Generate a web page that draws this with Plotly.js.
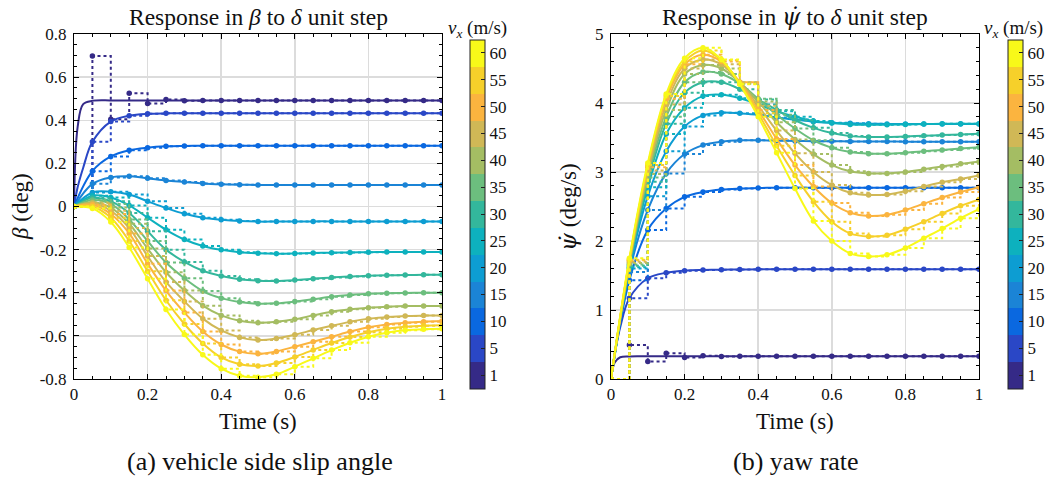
<!DOCTYPE html>
<html><head><meta charset="utf-8">
<script src="https://cdn.plot.ly/plotly-3.0.1.min.js"></script>
<style>html,body{margin:0;padding:0;background:#fff}#chart{width:1051px;height:477px}</style>
</head><body><div id="chart"></div>
<script>
// ---------- data ----------
const speeds = [1, 5, 10, 15, 20, 25, 30, 35, 40, 45, 50, 55, 60];
const speedLabels = ['1','5','10','15','20','25','30','35','40','45','50','55','60'];
const seriesColors = ['#352a87','#2a47c6','#0a68e0','#1b84d6','#0d9dd2','#0db1be','#33b79c','#6cbe7e','#a4bd63','#d0b856','#fbb43f','#f6d02a','#f8f919'];

const tSample = [0,0.05,0.1,0.15,0.2,0.25,0.3,0.35,0.4,0.45,0.5,0.55,0.6,0.65,0.7,0.75,0.8,0.85,0.9,0.95,1];
const tCont   = [0,0.01,0.025,0.05,0.1,0.15,0.2,0.25,0.3,0.35,0.4,0.45,0.5,0.55,0.6,0.65,0.7,0.75,0.8,0.85,0.9,0.95,1];

// side slip angle beta (deg), sampled (markers / stairs)
const beta_v1  = [0,0.698,0.405,0.525,0.478,0.496,0.491,0.492,0.492,0.492,0.492,0.492,0.492,0.492,0.492,0.492,0.492,0.492,0.492,0.492,0.492];
const beta_v5  = [0,0.30,0.394,0.421,0.430,0.432,0.432,0.432,0.432,0.432,0.432,0.432,0.432,0.432,0.432,0.432,0.432,0.432,0.432,0.432,0.432];
const beta_v10 = [0,0.164,0.232,0.261,0.273,0.279,0.281,0.282,0.282,0.282,0.282,0.282,0.282,0.282,0.282,0.282,0.282,0.282,0.282,0.282,0.282];
const beta_v15 = [0,0.105,0.135,0.14,0.131,0.121,0.114,0.107,0.103,0.101,0.100,0.100,0.100,0.100,0.100,0.100,0.100,0.100,0.100,0.100,0.100];
const beta_v20 = [0,0.065,0.068,0.056,0.024,-0.007,-0.034,-0.052,-0.061,-0.067,-0.070,-0.070,-0.070,-0.069,-0.069,-0.069,-0.069,-0.069,-0.069,-0.069,-0.069];
const beta_v25 = [0,0.05,0.042,0.005,-0.052,-0.108,-0.153,-0.183,-0.201,-0.212,-0.217,-0.219,-0.218,-0.216,-0.214,-0.213,-0.212,-0.211,-0.211,-0.211,-0.211];
const beta_v30 = [0,0.04,0.024,-0.03,-0.115,-0.2,-0.257,-0.298,-0.322,-0.337,-0.344,-0.345,-0.341,-0.335,-0.329,-0.325,-0.321,-0.319,-0.318,-0.317,-0.317];
const beta_v35 = [0,0.03,0.012,-0.06,-0.16,-0.26,-0.333,-0.392,-0.425,-0.443,-0.451,-0.449,-0.441,-0.43,-0.419,-0.411,-0.405,-0.402,-0.401,-0.400,-0.400];
const beta_v40 = [0,0.02,-0.005,-0.08,-0.195,-0.305,-0.39,-0.46,-0.505,-0.53,-0.539,-0.535,-0.523,-0.505,-0.488,-0.477,-0.469,-0.465,-0.462,-0.461,-0.461];
const beta_v45 = [0,0.015,-0.02,-0.1,-0.23,-0.35,-0.44,-0.52,-0.575,-0.607,-0.619,-0.612,-0.595,-0.573,-0.553,-0.535,-0.52,-0.513,-0.508,-0.506,-0.505];
const beta_v50 = [0,0.008,-0.035,-0.125,-0.265,-0.39,-0.492,-0.58,-0.64,-0.673,-0.683,-0.672,-0.65,-0.627,-0.604,-0.58,-0.56,-0.547,-0.539,-0.534,-0.531];
const beta_v55 = [0,0.0,-0.052,-0.16,-0.3,-0.435,-0.545,-0.635,-0.7,-0.732,-0.74,-0.726,-0.698,-0.665,-0.633,-0.605,-0.583,-0.567,-0.558,-0.553,-0.551];
const beta_v60 = [0,-0.009,-0.072,-0.19,-0.335,-0.478,-0.594,-0.688,-0.752,-0.785,-0.792,-0.778,-0.743,-0.704,-0.666,-0.632,-0.604,-0.585,-0.574,-0.569,-0.567];
// continuous beta where it differs from the samples (on tCont)
const betaCont_v1 = [0,0.37,0.475,0.49,0.492,0.492,0.492,0.492,0.492,0.492,0.492,0.492,0.492,0.492,0.492,0.492,0.492,0.492,0.492,0.492,0.492,0.492,0.492];
const betaCont_v5 = [0,0.09,0.18,0.30,0.394,0.421,0.430,0.432,0.432,0.432,0.432,0.432,0.432,0.432,0.432,0.432,0.432,0.432,0.432,0.432,0.432,0.432,0.432];

// yaw rate psi-dot (deg/s), sampled
const psi_v1  = [0,0.493,0.255,0.372,0.312,0.336,0.326,0.329,0.328,0.328,0.328,0.328,0.328,0.328,0.328,0.328,0.328,0.328,0.328,0.328,0.328];
const psi_v5  = [0,1.17,1.46,1.54,1.57,1.58,1.585,1.588,1.589,1.589,1.589,1.589,1.589,1.589,1.589,1.589,1.589,1.589,1.589,1.589,1.589];
const psi_v10 = [0,1.43,2.16,2.47,2.64,2.71,2.745,2.76,2.768,2.772,2.773,2.773,2.773,2.773,2.773,2.773,2.773,2.773,2.773,2.773,2.773];
const psi_v15 = [0,1.55,2.45,2.98,3.26,3.39,3.44,3.46,3.46,3.455,3.45,3.447,3.445,3.443,3.442,3.441,3.44,3.44,3.44,3.44,3.44];
const psi_v20 = [0,1.6,2.65,3.3,3.66,3.82,3.86,3.85,3.83,3.79,3.76,3.73,3.715,3.705,3.7,3.697,3.696,3.696,3.696,3.696,3.696];
const psi_v25 = [0,1.62,2.78,3.55,3.93,4.1,4.12,4.07,3.98,3.88,3.8,3.74,3.71,3.69,3.685,3.685,3.69,3.695,3.698,3.7,3.7];
const psi_v30 = [0,1.64,2.86,3.7,4.15,4.3,4.3,4.2,4.05,3.9,3.75,3.64,3.565,3.52,3.507,3.508,3.515,3.525,3.535,3.545,3.556];
const psi_v35 = [0,1.66,2.92,3.8,4.3,4.45,4.42,4.28,4.06,3.83,3.63,3.46,3.35,3.29,3.266,3.265,3.28,3.3,3.32,3.34,3.36];
const psi_v40 = [0,1.68,2.97,3.9,4.42,4.55,4.5,4.3,4.02,3.72,3.47,3.26,3.1,3.01,2.98,2.98,3.0,3.04,3.08,3.12,3.15];
const psi_v45 = [0,1.7,3.02,3.98,4.5,4.63,4.56,4.3,3.96,3.6,3.27,3.0,2.81,2.7,2.667,2.675,2.72,2.79,2.85,2.9,2.95];
const psi_v50 = [0,1.72,3.07,4.06,4.56,4.7,4.6,4.3,3.9,3.48,3.1,2.79,2.55,2.41,2.362,2.38,2.45,2.54,2.63,2.71,2.78];
const psi_v55 = [0,1.73,3.1,4.1,4.6,4.76,4.62,4.28,3.85,3.38,2.95,2.57,2.28,2.11,2.065,2.085,2.17,2.28,2.4,2.51,2.6];
const psi_v60 = [0,1.75,3.13,4.13,4.65,4.80,4.63,4.27,3.8,3.28,2.76,2.29,2.0,1.82,1.775,1.8,1.9,2.04,2.18,2.33,2.46];
const psiCont_v1 = [0,0.24,0.315,0.327,0.328,0.328,0.328,0.328,0.328,0.328,0.328,0.328,0.328,0.328,0.328,0.328,0.328,0.328,0.328,0.328,0.328,0.328,0.328];
const psiCont_v5 = [0,0.36,0.75,1.17,1.46,1.54,1.57,1.58,1.585,1.588,1.589,1.589,1.589,1.589,1.589,1.589,1.589,1.589,1.589,1.589,1.589,1.589,1.589];

const betaTicks = [-0.8,-0.6,-0.4,-0.2,0,0.2,0.4,0.6,0.8];
const betaTickText = ['-0.8','-0.6','-0.4','-0.2','0','0.2','0.4','0.6','0.8'];
const psiTicks = [0,1,2,3,4,5];
const timeTicks = [0,0.2,0.4,0.6,0.8,1];
const timeTickText = ['0','0.2','0.4','0.6','0.8','1'];

// ---------- build ----------
const betaSamples = [beta_v1,beta_v5,beta_v10,beta_v15,beta_v20,beta_v25,beta_v30,beta_v35,beta_v40,beta_v45,beta_v50,beta_v55,beta_v60];
const psiSamples  = [psi_v1,psi_v5,psi_v10,psi_v15,psi_v20,psi_v25,psi_v30,psi_v35,psi_v40,psi_v45,psi_v50,psi_v55,psi_v60];
const betaCont = {0: betaCont_v1, 1: betaCont_v5};
const psiCont  = {0: psiCont_v1, 1: psiCont_v5};

const FONT = '"Liberation Serif", "DejaVu Serif", serif';
const W = 1051, H = 477;
const px = p => p / W;
const py = p => 1 - p / H;

const traces = [];
function addSeries(samples, contMap, xa, ya) {
  samples.forEach((ys, i) => {
    const c = seriesColors[i];
    const cont = contMap[i];
    traces.push({
      x: cont ? tCont : tSample, y: cont ? cont : ys, xaxis: xa, yaxis: ya,
      type: 'scatter', mode: 'lines', hoverinfo: 'skip', showlegend: false,
      line: {color: c, width: 2, shape: 'spline', smoothing: 1}
    });
    traces.push({
      x: tSample, y: ys, xaxis: xa, yaxis: ya,
      type: 'scatter', mode: 'lines+markers', hoverinfo: 'skip', showlegend: false,
      line: {color: c, width: 2, dash: 'dot', shape: 'hv'},
      marker: {color: c, size: 5.5}
    });
  });
}
addSeries(betaSamples, betaCont, 'x', 'y');
addSeries(psiSamples, psiCont, 'x2', 'y2');

// discrete colorscale
const n = speeds.length;
const cscale = [];
seriesColors.forEach((c, k) => { cscale.push([k / n, c]); cscale.push([(k + 1) / n, c]); });
const idx = speeds.map((s, k) => k + 1);
function cbTrace(xa, ya, xLeft) {
  return {
    x: [-5], y: [-5], xaxis: xa, yaxis: ya, type: 'scatter', mode: 'markers',
    hoverinfo: 'skip', showlegend: false,
    marker: {
      color: [1], cmin: 0.5, cmax: n + 0.5, colorscale: cscale, showscale: true, size: 1,
      colorbar: {
        x: px(xLeft), xanchor: 'left', xref: 'paper', y: py(388.5), yanchor: 'bottom', yref: 'paper',
        len: 349, lenmode: 'pixels', thickness: 15, thicknessmode: 'pixels', xpad: 0, ypad: 0,
        outlinecolor: '#222', outlinewidth: 1, borderwidth: 0,
        tickmode: 'array', tickvals: idx, ticktext: speedLabels,
        ticks: 'inside', ticklen: 4, tickcolor: '#222',
        tickfont: {family: FONT, size: 17, color: '#111'}
      }
    }
  };
}
traces.push(cbTrace('x', 'y', 470));
traces.push(cbTrace('x2', 'y2', 1007.5));

const baseAxis = {
  showline: true, linecolor: '#000', linewidth: 1, mirror: 'ticks',
  ticks: 'inside', ticklen: 5, tickwidth: 1, tickcolor: '#000',
  showgrid: true, gridcolor: '#dcdcdc', gridwidth: 1.5, zeroline: false,
  tickfont: {family: FONT, size: 17, color: '#111'}, fixedrange: true
};
const xAxisBase = Object.assign({}, baseAxis, {
  range: [0, 1], tickmode: 'array', tickvals: timeTicks, ticktext: timeTickText,
  minor: {ticks: 'inside', ticklen: 3, dtick: 0.05, tick0: 0, tickcolor: '#000', showgrid: false}
});

const PSIDOT = '<span style="font-family:\'DejaVu Serif\'">ψ̇</span>';
const layout = {
  width: W, height: H, margin: {l: 0, r: 0, t: 0, b: 0}, autosize: false,
  paper_bgcolor: '#fff', plot_bgcolor: '#fff', hovermode: false, showlegend: false,
  font: {family: FONT, color: '#111'},
  xaxis: Object.assign({}, xAxisBase, {domain: [px(74), px(442)], anchor: 'y'}),
  yaxis: Object.assign({}, baseAxis, {
    domain: [py(379), py(34)], anchor: 'x', range: [-0.8, 0.8], ticklabelstandoff: 3,
    tickmode: 'array', tickvals: betaTicks, ticktext: betaTickText,
    minor: {ticks: 'inside', ticklen: 3, dtick: 0.05, tick0: 0, tickcolor: '#000', showgrid: false}
  }),
  xaxis2: Object.assign({}, xAxisBase, {domain: [px(611), px(979)], anchor: 'y2'}),
  yaxis2: Object.assign({}, baseAxis, {
    domain: [py(379), py(34)], anchor: 'x2', range: [0, 5], ticklabelstandoff: 3,
    tickmode: 'array', tickvals: psiTicks, ticktext: psiTicks.map(String),
    minor: {ticks: 'inside', ticklen: 3, dtick: 0.2, tick0: 0, tickcolor: '#000', showgrid: false}
  }),
  annotations: [
    {text: 'Response in <i>β</i> to <i>δ</i> unit step', x: px(258), y: py(17), size: 23.5},
    {text: 'Response in <i>' + PSIDOT + '</i> to <i>δ</i> unit step', x: px(795), y: py(17), size: 23.5},
    {text: 'Time (s)', x: px(258), y: py(421), size: 23},
    {text: 'Time (s)', x: px(795), y: py(421), size: 23},
    {text: '<i>β</i> (deg)', x: px(20), y: py(207), size: 23, angle: -90},
    {text: '<i>' + PSIDOT + '</i> (deg/s)', x: px(568), y: py(207), size: 23, angle: -90},
    {text: '(a) vehicle side slip angle', x: px(260), y: py(461), size: 26},
    {text: '(b) yaw rate', x: px(796), y: py(461), size: 26},
    {text: '<i>v<sub>x</sub></i> (m/s)', x: px(477), y: py(29), size: 19},
    {text: '<i>v<sub>x</sub></i> (m/s)', x: px(1013), y: py(29), size: 19}
  ].map(a => ({
    text: a.text, x: a.x, y: a.y, xref: 'paper', yref: 'paper', showarrow: false,
    xanchor: 'center', yanchor: 'middle', textangle: a.angle || 0, borderpad: 0,
    font: {family: FONT, size: a.size, color: '#111'}
  }))
};

Plotly.newPlot('chart', traces, layout, {staticPlot: true, displayModeBar: false});
</script>
</body></html>
